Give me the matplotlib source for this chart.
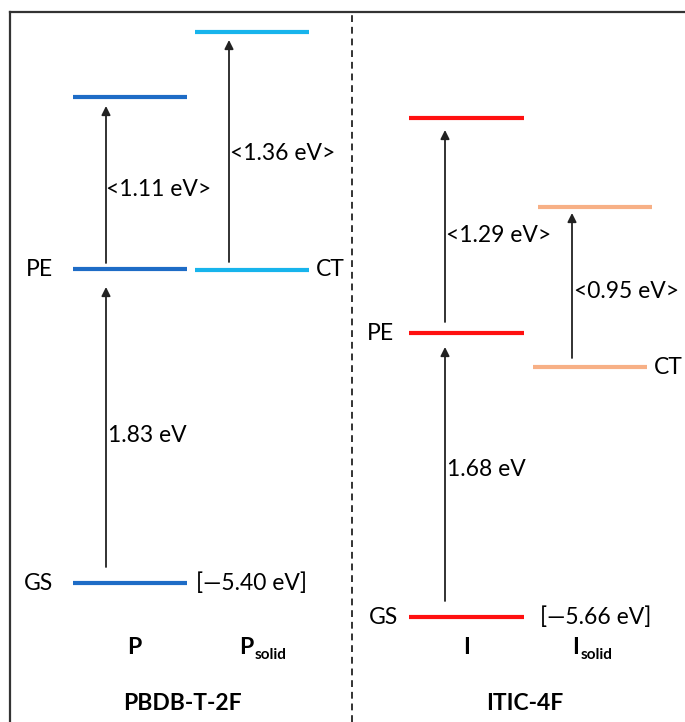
import matplotlib
matplotlib.use("Agg")
import matplotlib.pyplot as plt

plt.rcParams['font.family'] = ['Lato', 'DejaVu Sans']

# level heights in diagram units (bottom = 0)
p_levels = [139, 453, 625]        # GS, PE, upper state
psolid_levels = [452, 690]        # CT, upper state
i_levels = [105, 389, 604]        # GS, PE, upper state
isolid_levels = [355, 515]        # CT, upper state

p_gaps = ["1.83 eV", "<1.11 eV>"]
psolid_gaps = ["<1.36 eV>"]
i_gaps = ["1.68 eV", "<1.29 eV>"]
isolid_gaps = ["<0.95 eV>"]

gs_labels = ["[\u20145.40 eV]", "[\u20145.66 eV]"]
molecules = ["PBDB-T-2F", "ITIC-4F"]

c_p = "#1E6CC6"
c_ps = "#17B4EC"
c_i = "#FF1010"
c_is = "#F7B086"

fig = plt.figure(figsize=(6.85, 7.22), dpi=100)
ax = fig.add_axes([0, 0, 1, 1])
ax.set_xlim(0, 685)
ax.set_ylim(0, 722)
ax.axis('off')

lw_level = 3.0
fs = 16.5

def levels(x0, x1, ys, color):
    ax.hlines(ys, x0, x1, colors=color, lw=lw_level, capstyle='butt')

def arrow(x, y0, y1, g0=8, g1=9):
    ax.annotate("", xy=(x, y1 - g1), xytext=(x, y0 + g0),
                arrowprops=dict(arrowstyle='-|>', lw=1.3, color='#222222',
                                mutation_scale=13, shrinkA=0, shrinkB=0))

# frame + divider
ax.plot([10, 10], [0, 710], color='#333333', lw=1.6)
ax.plot([10, 685], [710, 710], color='#333333', lw=1.6)
ax.plot([352, 352], [0, 710], color='#333333', lw=1.4, ls=(0, (3.5, 2.5)))

# ---- left panel: PBDB-T-2F
levels(73, 187, p_levels, c_p)
levels(195, 309, psolid_levels, c_ps)
arrow(106, p_levels[0], p_levels[1], 16, 18)
arrow(106, p_levels[1], p_levels[2], 6, 9)
arrow(229, psolid_levels[0], psolid_levels[1], 8, 8)
ax.text(108, 287, p_gaps[0], fontsize=fs, va='center')
ax.text(106, 532, p_gaps[1], fontsize=fs, va='center')
ax.text(230, 569, psolid_gaps[0], fontsize=fs, va='center')
ax.text(53, p_levels[1], "PE", fontsize=fs, va='center', ha='right')
ax.text(53, p_levels[0], "GS", fontsize=fs, va='center', ha='right')
ax.text(316, psolid_levels[0], "CT", fontsize=fs, va='center')
ax.text(196, p_levels[0], gs_labels[0], fontsize=fs, va='center')

# ---- right panel: ITIC-4F
levels(409, 524, i_levels, c_i)
levels(533, 647, isolid_levels[:1], c_is)
levels(538, 652, isolid_levels[1:], c_is)
arrow(445, i_levels[0], i_levels[1], 16, 14)
arrow(445, i_levels[1], i_levels[2], 11, 12)
arrow(572, isolid_levels[0], isolid_levels[1], 9, 6)
ax.text(447, 252, i_gaps[0], fontsize=fs, va='center')
ax.text(446, 487, i_gaps[1], fontsize=fs, va='center')
ax.text(574, 430, isolid_gaps[0], fontsize=fs, va='center')
ax.text(394, i_levels[1], "PE", fontsize=fs, va='center', ha='right')
ax.text(398, i_levels[0], "GS", fontsize=fs, va='center', ha='right')
ax.text(654, isolid_levels[0], "CT", fontsize=fs, va='center')
ax.text(540, i_levels[0], gs_labels[1], fontsize=fs, va='center')

# ---- column and molecule names
def col_label(x, main, sub=None):
    t = ax.text(x, 75, main, fontsize=fs, fontweight='bold', ha='center', va='center')
    if sub:
        ax.annotate(sub, xy=(1, 0), xycoords=t, xytext=(1, -3), textcoords='offset points',
                    fontsize=11, fontweight='bold', ha='left', va='bottom')

col_label(134, "P")
col_label(246, "P", "solid")
col_label(467, "I")
col_label(576, "I", "solid")
ax.text(182, 18, molecules[0], fontsize=fs, fontweight='bold', ha='center', va='center')
ax.text(525, 18, molecules[1], fontsize=fs, fontweight='bold', ha='center', va='center')

fig.savefig("out.png", dpi=100)
